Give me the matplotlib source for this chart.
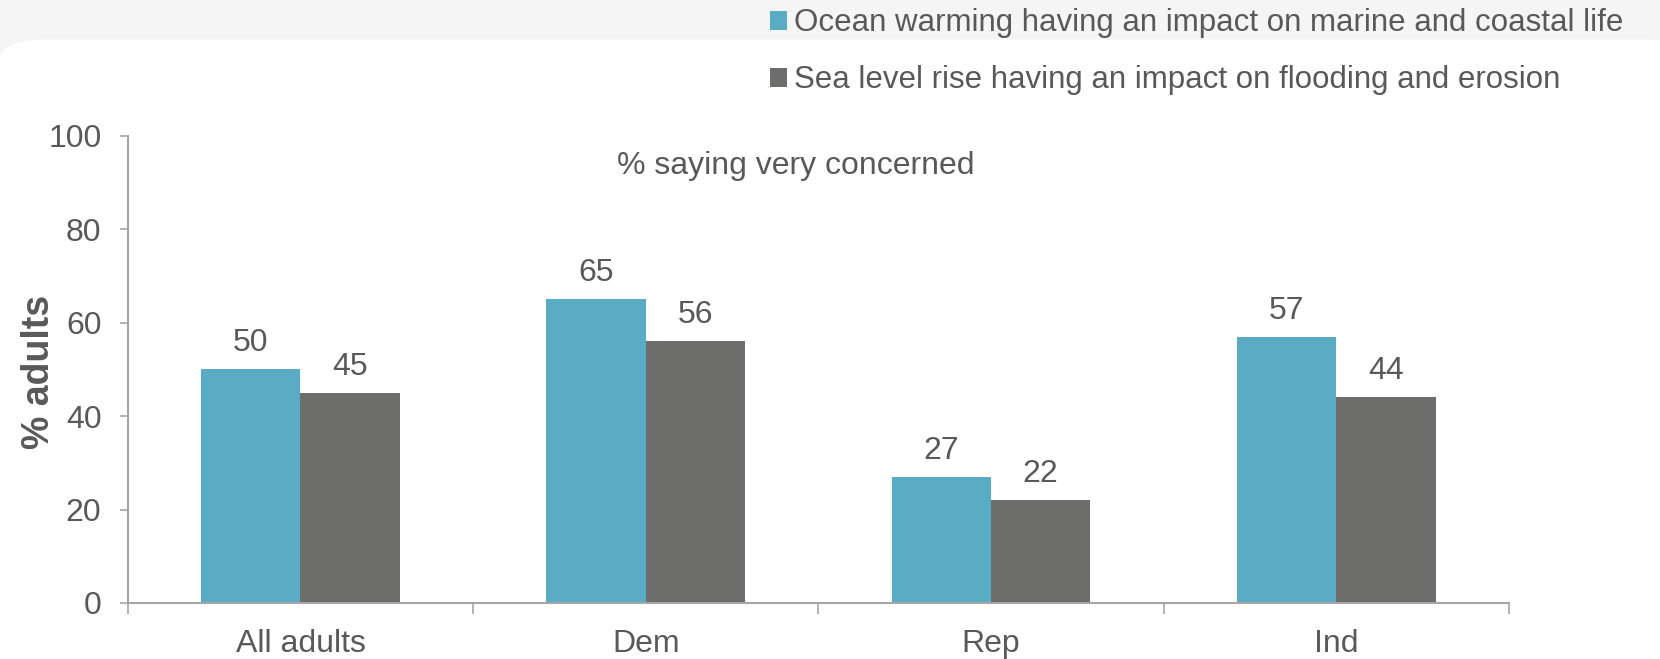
import numpy as np
import matplotlib.pyplot as plt
from matplotlib.patches import FancyBboxPatch

categories = ['All adults', 'Dem', 'Rep', 'Ind']
ocean = [50, 65, 27, 57]
sea = [45, 56, 22, 44]
labels = ['Ocean warming having an impact on marine and coastal life',
          'Sea level rise having an impact on flooding and erosion']

plt.rcParams['font.family'] = ['Liberation Sans', 'DejaVu Sans']
txt = '#595959'
blue = '#5AACC5'
grey = '#6D6E6B'
fs = 23

fig = plt.figure(figsize=(16.6, 6.59), dpi=100)
fig.patch.set_facecolor('#f5f5f5')
bg = FancyBboxPatch((0.0, -0.05), 1.02, 0.99, boxstyle='round,pad=0,rounding_size=0.03',
                    transform=fig.transFigure, facecolor='white', edgecolor='none', zorder=-5)
fig.patches.append(bg)

ax = fig.add_axes([0.077, 0.085, 0.832, 0.709])
ax.set_facecolor('none')
ax.set_zorder(2)

x = np.arange(len(categories))
w = 0.288
b1 = ax.bar(x - w / 2, ocean, w, color=blue, label=labels[0])
b2 = ax.bar(x + w / 2, sea, w, color=grey, label=labels[1])

for bars, vals in [(b1, ocean), (b2, sea)]:
    for r, v in zip(bars, vals):
        ax.annotate(str(v), (r.get_x() + r.get_width() / 2, v), xytext=(0, 8),
                    textcoords='offset points', ha='center', va='bottom',
                    fontsize=fs, color=txt)

ax.set_xlim(-0.5, len(categories) - 0.5)
ax.set_ylim(0, 100)
ax.set_yticks(np.arange(0, 101, 20))
ax.set_xticks(np.arange(-0.5, len(categories), 1))
ax.set_xticklabels([])
ax.set_xticks(x, minor=True)
ax.set_xticklabels(categories, minor=True)
ax.tick_params(axis='x', which='minor', length=0, pad=19, labelsize=fs, labelcolor=txt)
ax.tick_params(axis='x', which='major', length=8, color='#a6a6a6', width=1.2)
ax.tick_params(axis='y', length=6, color='#a6a6a6', width=1.2, labelsize=fs, labelcolor=txt, pad=13)
for s in ['top', 'right']:
    ax.spines[s].set_visible(False)
for s in ['left', 'bottom']:
    ax.spines[s].set_color('#a6a6a6')
    ax.spines[s].set_linewidth(1.5)

ax.set_ylabel('% adults', fontsize=27, fontweight='bold', color=txt)
ax.yaxis.set_label_coords(-0.051, 0.495)
fig.text(0.4796, 0.748, '% saying very concerned', ha='center', va='center', fontsize=fs, color=txt)

leg = fig.legend(handles=[b1, b2], loc='upper left', bbox_to_anchor=(0.447, 1.03),
                 frameon=False, fontsize=22.5, handlelength=0.55, handleheight=0.55,
                 handletextpad=0.2, labelspacing=0.86, labelcolor=txt)

fig.savefig('out.png', dpi=100, facecolor=fig.get_facecolor())
